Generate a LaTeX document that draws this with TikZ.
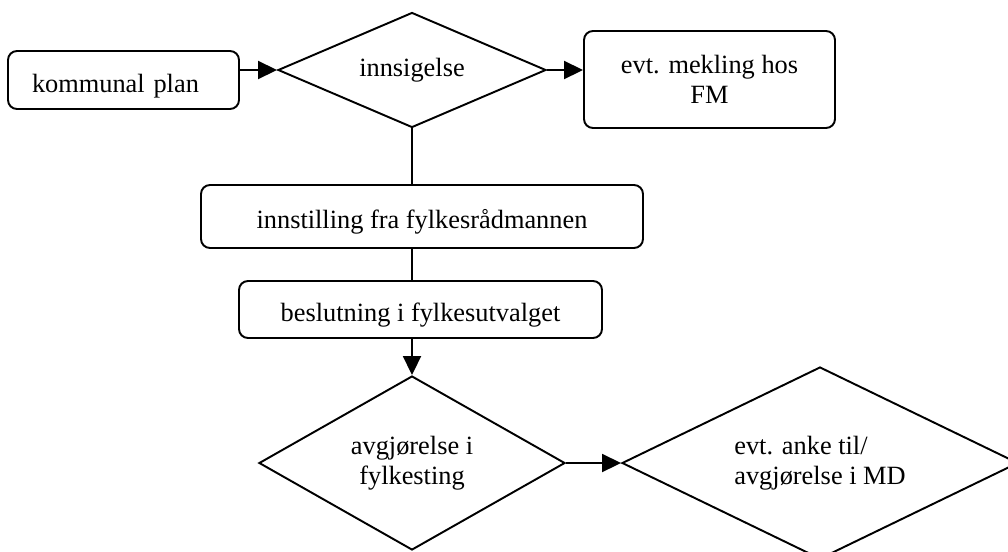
\documentclass[tikz,border=0pt]{standalone}
\usepackage{fontspec}
\setmainfont{Liberation Serif}
\usetikzlibrary{
    arrows.meta,
    shapes.geometric,
    calc
}
\tikzset{
    box/.style={draw, line width=1.1pt, rounded corners=1.8mm},
    lowtext/.style={text height=5.8mm, text depth=1mm},
    choice/.style={draw, diamond, line width=1.1pt, inner sep=0pt},
    flow/.style={line width=1.1pt, -{Triangle[length=3.8mm, width=3.6mm]}},
    link/.style={line width=1.1pt}
}

\begin{document}
\begin{tikzpicture}[font=\fontsize{15}{17.1}\selectfont]
    \useasboundingbox (0, 0) rectangle (20.16, -11.02);
    % top row
    \node[box, lowtext, text width=3.66cm, inner xsep=4.8mm, align=left, minimum height=1.16cm] (plan) at (2.47, -1.6) {kommunal plan};
    \node[choice, minimum width=5.36cm, minimum height=2.3cm, shape aspect=2.33] (innsigelse) at (8.24, -1.4) {innsigelse};
    \node[box, align=center, minimum width=5.02cm, minimum height=1.94cm] (mekling) at (14.19, -1.59) {evt. mekling hos\\FM};
    % middle
    \node[box, lowtext, minimum width=8.84cm, minimum height=1.26cm] (innstilling) at (8.44, -4.33) {innstilling fra fylkesrådmannen};
    \node[box, lowtext, minimum width=7.26cm, minimum height=1.14cm] (beslutning) at (8.41, -6.19) {beslutning i fylkesutvalget};
    % bottom row
    \node[choice, align=center, minimum width=6.12cm, minimum height=3.48cm, shape aspect=1.76] (avgjorelse) at (8.24, -9.26) {avgjørelse i\\fylkesting};
    \node[choice, align=left, minimum width=7.92cm, minimum height=3.84cm, shape aspect=2.06] (anke) at (16.4, -9.26) {evt. anke til/\\avgjørelse i MD};

    \draw[flow] (plan.east |- innsigelse.west) -- (innsigelse.west);
    \draw[flow] (innsigelse.east) -- (innsigelse.east -| mekling.west);
    \draw[link] (innsigelse.south) -- (innsigelse.south |- innstilling.north);
    \draw[link] (innsigelse.south |- innstilling.south) -- (innsigelse.south |- beslutning.north);
    \draw[flow] (avgjorelse.north |- beslutning.south) -- (avgjorelse.north);
    \draw[flow] (avgjorelse.east) -- (anke.west);
\end{tikzpicture}
\end{document}
